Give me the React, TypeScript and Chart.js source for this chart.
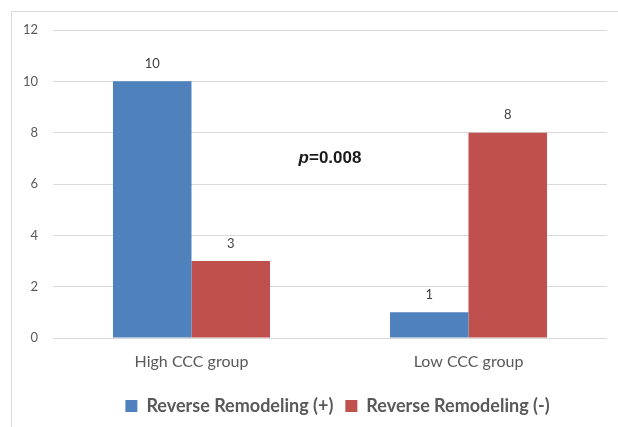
import React, { useEffect, useRef } from "react";
import { Chart, registerables } from "chart.js";

Chart.register(...registerables);

const categories = ["High CCC group", "Low CCC group"];
const seriesNames = ["Reverse Remodeling (+)", "Reverse Remodeling (-)"];
const positiveValues = [10, 1];
const negativeValues = [3, 8];
const yTicks = [0, 2, 4, 6, 8, 10, 12];
const annotationText = ["p", "=0.008"];

const BLUE = "#4f81bd";
const RED = "#c0504d";
const GRID = "#d9d9d9";
const TEXT = "#595959";

export default function App() {
  const ref = useRef<HTMLCanvasElement | null>(null);

  useEffect(() => {
    document.body.style.margin = "0";
    const canvas = ref.current;
    if (!canvas) return;

    const framePlugin = {
      id: "frame",
      beforeDraw(chart: any) {
        const ctx = chart.ctx;
        ctx.save();
        ctx.fillStyle = "#ffffff";
        ctx.fillRect(0, 0, chart.width, chart.height);
        ctx.strokeStyle = GRID;
        ctx.lineWidth = 1;
        ctx.beginPath();
        ctx.moveTo(11.5, chart.height);
        ctx.lineTo(11.5, 11.5);
        ctx.lineTo(chart.width, 11.5);
        ctx.stroke();
        ctx.restore();
      },
    };

    const legendShift = {
      id: "legendShift",
      afterLayout(chart: any) {
        const lg = chart.legend;
        if (lg) {
          lg.left += 34;
          lg.right += 34;
        }
      },
    };

    const labelPlugin = {
      id: "barLabels",
      afterDatasetsDraw(chart: any) {
        const ctx = chart.ctx;
        ctx.save();
        ctx.font = "13px Lato";
        ctx.fillStyle = "#404040";
        ctx.textAlign = "center";
        ctx.textBaseline = "bottom";
        chart.data.datasets.forEach((ds: any, i: number) => {
          const meta = chart.getDatasetMeta(i);
          meta.data.forEach((bar: any, j: number) => {
            ctx.fillText(String(ds.data[j]), bar.x, bar.y - 11);
          });
        });
        // p-value annotation
        const xs = chart.scales.x;
        const ys = chart.scales.y;
        const cx = xs.getPixelForValue(0.5);
        const cy = ys.getPixelForValue(7.0);
        ctx.fillStyle = "#1a1a1a";
        ctx.textBaseline = "middle";
        ctx.textAlign = "left";
        const f1 = "italic bold 17px 'Liberation Sans'";
        const f2 = "bold 17px 'Liberation Sans'";
        ctx.font = f1;
        const w1 = ctx.measureText(annotationText[0]).width;
        ctx.font = f2;
        const w2 = ctx.measureText(annotationText[1]).width;
        const start = cx - (w1 + w2) / 2;
        ctx.font = f1;
        ctx.fillText(annotationText[0], start, cy);
        ctx.font = f2;
        ctx.fillText(annotationText[1], start + w1, cy);
        ctx.restore();
      },
    };

    const chart = new Chart(canvas, {
      type: "bar",
      data: {
        labels: categories,
        datasets: [
          {
            label: seriesNames[0],
            data: positiveValues,
            backgroundColor: BLUE,
            borderWidth: 0,
          },
          {
            label: seriesNames[1],
            data: negativeValues,
            backgroundColor: RED,
            borderWidth: 0,
          },
        ],
      },
      options: {
        animation: false,
        responsive: false,
        maintainAspectRatio: false,
        layout: { padding: { top: 30, right: 11, left: 0, bottom: 2 } },
        datasets: {
          bar: { categoryPercentage: 0.567, barPercentage: 1 },
        },
        plugins: {
          legend: {
            position: "bottom",
            labels: {
              font: { family: "Lato", size: 18, weight: "bold" },
              color: TEXT,
              boxWidth: 12,
              boxHeight: 12,
              padding: 12,
            },
          },
          tooltip: { enabled: false },
        },
        scales: {
          x: {
            grid: { display: false, drawTicks: false },
            border: { display: false },
            ticks: {
              font: { family: "Lato", size: 16 },
              color: TEXT,
              padding: 14,
            },
            afterFit(scale: any) {
              scale.height = 47;
            },
          },
          y: {
            min: 0,
            max: 12,
            afterBuildTicks(scale: any) {
              scale.ticks = yTicks.map((v) => ({ value: v }));
            },
            grid: { color: GRID, drawTicks: false },
            border: { display: false },
            ticks: {
              font: { family: "Lato", size: 13 },
              color: TEXT,
              padding: 15,
            },
            afterFit(scale: any) {
              scale.width = 53;
            },
          },
        },
      },
      plugins: [framePlugin, legendShift, labelPlugin],
    });

    return () => chart.destroy();
  }, []);

  return (
    <div style={{ width: 618, height: 427 }}>
      <canvas ref={ref} width={618} height={427} style={{ display: "block" }} />
    </div>
  );
}
